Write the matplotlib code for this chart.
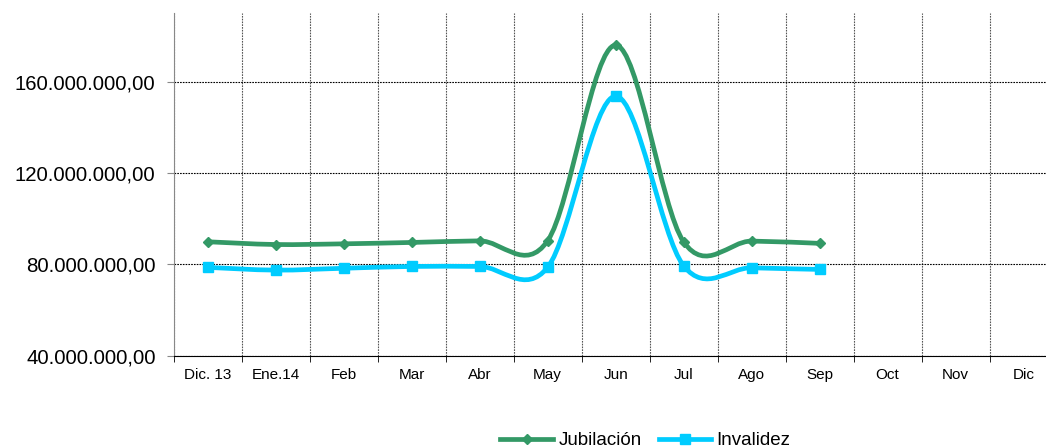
"""Jubilación vs Invalidez monthly line chart (Excel-style smoothed lines)."""

import matplotlib

matplotlib.use("Agg")
import matplotlib.pyplot as plt
from matplotlib.lines import Line2D
from matplotlib.patches import PathPatch
from matplotlib.path import Path
from matplotlib.ticker import FuncFormatter, FixedLocator

plt.rcParams["font.family"] = ["Liberation Sans", "DejaVu Sans"]

months = ["Dic. 13", "Ene.14", "Feb", "Mar", "Abr", "May", "Jun",
          "Jul", "Ago", "Sep", "Oct", "Nov", "Dic"]
jubilacion = [89.9e6, 88.7e6, 89.0e6, 89.6e6, 90.3e6, 90.3e6, 175.9e6,
              89.9e6, 90.2e6, 89.2e6]
invalidez = [78.7e6, 77.5e6, 78.3e6, 79.1e6, 79.1e6, 78.7e6, 153.6e6,
             79.4e6, 78.5e6, 77.8e6]
y_ticks = [40e6, 80e6, 120e6, 160e6]

GREEN = "#339966"
CYAN = "#00CCFF"


def smooth_path(xs, ys):
    """Bezier path through the points, like Excel's smoothed line."""
    pts = list(zip(xs, ys))
    n = len(pts)
    verts = [pts[0]]
    codes = [Path.MOVETO]
    for i in range(n - 1):
        p0 = pts[i - 1] if i > 0 else pts[i]
        p1 = pts[i]
        p2 = pts[i + 1]
        p3 = pts[i + 2] if i + 2 < n else pts[i + 1]
        c1 = (p1[0] + (p2[0] - p0[0]) / 6, p1[1] + (p2[1] - p0[1]) / 6)
        c2 = (p2[0] - (p3[0] - p1[0]) / 6, p2[1] - (p3[1] - p1[1]) / 6)
        verts += [c1, c2, p2]
        codes += [Path.CURVE4] * 3
    return Path(verts, codes)


def fmt_es(v, _pos):
    s = f"{v:,.2f}"
    return s.replace(",", "X").replace(".", ",").replace("X", ".")


fig = plt.figure(figsize=(10.46, 4.46), dpi=100)
ax = fig.add_axes([0.166, 0.2022, 0.834, 0.7687])

series = [
    ("Jubilación", jubilacion, GREEN, "D", 5),
    ("Invalidez", invalidez, CYAN, "s", 7),
]
handles = []
for name, vals, color, marker, msize in series:
    xs = list(range(len(vals)))
    ax.add_patch(PathPatch(smooth_path(xs, vals), fill=False, edgecolor=color,
                           lw=3.4, capstyle="round", joinstyle="round", zorder=3))
    ax.plot(xs, vals, ls="none", marker=marker, ms=msize, color=color,
            mec=color, zorder=4)
    handles.append(Line2D([], [], color=color, lw=3.4, marker=marker,
                          ms=msize, label=name))

ax.set_xlim(-0.5, 12.33)
ax.set_ylim(40e6, 190e6)

ax.set_xticks(range(len(months)))
ax.set_xticklabels(months, fontsize=11)
ax.xaxis.set_minor_locator(FixedLocator([i + 0.5 for i in range(-1, 13)]))
ax.tick_params(axis="x", which="major", length=0, pad=9)
ax.tick_params(axis="x", which="minor", length=4, color="black", direction="out")

ax.set_yticks(y_ticks)
ax.yaxis.set_major_formatter(FuncFormatter(fmt_es))
ax.tick_params(axis="y", which="major", labelsize=14.7, length=5, pad=8,
               color="#888888")

ax.grid(axis="y", which="major", color="black", ls=(0, (1.5, 1)), lw=0.8)
ax.grid(axis="x", which="minor", color="#555555", ls=(0, (1.5, 1)), lw=0.8)

for side in ("top", "right"):
    ax.spines[side].set_visible(False)
ax.spines["left"].set_color("#888888")
ax.spines["bottom"].set_color("black")

fig.legend(handles=handles, loc="center", bbox_to_anchor=(0.617, 0.012),
           ncol=2, frameon=False, fontsize=13.5, handlelength=2.8,
           handletextpad=0.3, columnspacing=0.9, numpoints=1)

fig.savefig("out.png", dpi=100)
plt.close(fig)
